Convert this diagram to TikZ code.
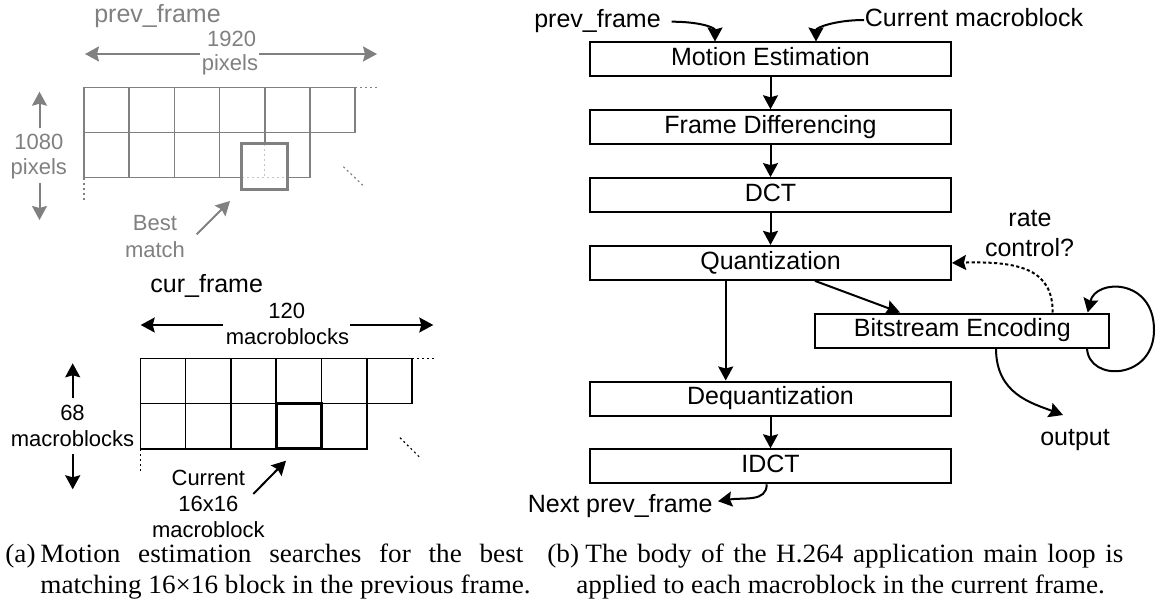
\documentclass[tikz,border=0pt]{standalone}
\usepackage{fontspec}
\setmainfont{Liberation Sans}
\newfontfamily\capfont{Liberation Serif}[FakeStretch=1.03]
\usetikzlibrary{arrows.meta}
\definecolor{gr}{HTML}{808080}
\definecolor{lgr}{HTML}{C4C4C4}
\tikzset{
  box/.style={draw, line width=1pt, minimum width=180.5pt, minimum height=17pt, inner sep=0pt,
    text height=9pt, text depth=2.6pt, font=\fontsize{12.5}{15}\selectfont},
  arr/.style={-{Stealth[length=7pt,width=7.5pt,inset=1pt]}, line width=1pt},
  garr/.style={arr, draw=gr, fill=gr},
  rt/.style={inner sep=0pt, anchor=base, font=\fontsize{12.5}{15}\selectfont},
  lt/.style={inner sep=0pt, anchor=base, font=\fontsize{11}{13}\selectfont},
  capst/.style={inner sep=0pt, anchor=base west, font=\capfont\fontsize{13.2}{15}\selectfont},
  gline/.style={draw=gr, line width=0.8pt},
  bline/.style={draw=black, line width=0.8pt},
  dots/.style={dash pattern=on 1pt off 1.5pt, line width=0.6pt},
}
\begin{document}
\begin{tikzpicture}[x=0.5pt,y=-0.5pt]
\useasboundingbox (0,0) rectangle (1156,604);

% ---------------- (a) top: prev_frame ----------------
\node[rt, text=gr] (pft) at (157.5,22.7) {prev\_frame};
\node[lt, text=gr] (w1920) at (231.7,46.7) {1920};
\node[lt, text=gr] (wpx) at (230,71) {pixels};
\node[lt, text=gr] (h1080) at (38.8,150) {1080};
\node[lt, text=gr] (hpx) at (38.8,175) {pixels};
\node[lt, text=gr] (best) at (155,231) {Best};
\node[lt, text=gr] (match) at (155,257) {match};

\coordinate (wa1) at (200,54);   \coordinate (wa1t) at (85,54);
\coordinate (wa2) at (259,54);   \coordinate (wa2t) at (377,54);
\coordinate (ha1) at (39.5,128.3); \coordinate (ha1t) at (39.5,91.7);
\coordinate (ha2) at (39.5,183.3); \coordinate (ha2t) at (39.5,220);
\coordinate (ba) at (196.7,234.3); \coordinate (bat) at (230,201);
\draw[garr] (wa1) -- (wa1t);
\draw[garr] (wa2) -- (wa2t);
\draw[garr] (ha1) -- (ha1t);
\draw[garr] (ha2) -- (ha2t);
\draw[garr] (ba) -- (bat);

% grid
\draw[gline] (84,87.7) rectangle (355,132.7);
\draw[gline] (84,132.7) rectangle (309.8,177.7);
\foreach \x in {129.2,174.3,219.5,264.7,309.8} \draw[gline] (\x,87.7) -- (\x,132.7);
\foreach \x in {129.2,174.3,219.5,264.7} \draw[gline] (\x,132.7) -- (\x,177.7);
\draw[gr, dots] (355,87.7) -- (378,87.7);
\draw[gr, dots] (84,177.7) -- (84,201.7);
\draw[gr, dots] (343.3,166.7) -- (365,187.3);
% best match box
\fill[white] (241.7,144) rectangle (287.7,190);
\draw[lgr, dots] (264.7,144) -- (264.7,177.7);
\draw[lgr, dots] (241.7,177.7) -- (287.7,177.7);
\draw[draw=gr, line width=1.5pt] (241.7,144) rectangle (287.7,190);

% ---------------- (a) bottom: cur_frame ----------------
\node[rt] (cft) at (206.7,292.7) {cur\_frame};
\node[lt] (w120) at (286.7,318.3) {120};
\node[lt] (wmb) at (287.5,344) {macroblocks};
\node[lt] (h68) at (72.5,420) {68};
\node[lt] (hmb) at (72.5,446) {macroblocks};
\node[lt] (cur) at (208.3,485) {Current};
\node[lt] (c16) at (208.3,511) {16x16};
\node[lt] (cmb) at (208.3,537.3) {macroblock};

\coordinate (wb1) at (222.7,325);  \coordinate (wb1t) at (140.7,325);
\coordinate (wb2) at (350,325);    \coordinate (wb2t) at (433.3,325);
\coordinate (hb1) at (72.7,398.3); \coordinate (hb1t) at (72.7,363.3);
\coordinate (hb2) at (72.7,454);   \coordinate (hb2t) at (72.7,489.3);
\coordinate (ca) at (253.3,494);   \coordinate (cat) at (286,460.7);
\draw[arr] (wb1) -- (wb1t);
\draw[arr] (wb2) -- (wb2t);
\draw[arr] (hb1) -- (hb1t);
\draw[arr] (hb2) -- (hb2t);
\draw[arr] (ca) -- (cat);

\draw[bline] (140.3,358.3) rectangle (412,403.6);
\draw[bline] (140.3,403.6) rectangle (366.7,448.9);
\foreach \x in {185.6,230.9,276.1,321.4,366.7} \draw[bline] (\x,358.3) -- (\x,403.6);
\foreach \x in {185.6,230.9,276.1,321.4} \draw[bline] (\x,403.6) -- (\x,448.9);
\draw[dots] (412,358.3) -- (435,358.3);
\draw[dots] (140.3,448.9) -- (140.3,471.7);
\draw[dots] (400,437.7) -- (420.7,458.3);
\draw[line width=1.5pt] (276.1,403.6) rectangle (321.4,448.9);

% ---------------- (b) flowchart ----------------
\node[box] (me) at (770.5,59.5) {Motion Estimation};
\node[box] (fd) at (770.5,127.3) {Frame Differencing};
\node[box] (dct) at (770.5,195.1) {DCT};
\node[box] (q) at (770.5,262.9) {Quantization};
\node[box] (dq) at (770.5,398.5) {Dequantization};
\node[box] (idct) at (770.5,466.3) {IDCT};
\node[box, minimum width=147pt] (be) at (962.3,330.5) {Bitstream Encoding};

\node[rt] (pfin) at (597.5,27.3) {prev\_frame};
\node[rt] (cmin) at (974,27) {Current macroblock};
\node[rt] (rate) at (1030,226.7) {rate};
\node[rt] (ctrl) at (1029.5,256.7) {control?};
\node[rt] (out) at (1075,445) {output};
\node[rt, anchor=base east] (npf) at (713,512.7) {Next prev\_frame};

\coordinate (pfs) at (671.7,21.7);
\coordinate (cms) at (864,20);
\coordinate (outt) at (1063,415);
\coordinate (loopr) at (1154,330);

\draw[arr] (pfs) .. controls +(28,0) and +(0,-14) .. ([xshift=-27.75pt]me.north);
\draw[arr] (cms) .. controls +(-28,0) and +(0,-14) .. ([xshift=22.75pt]me.north);
\draw[arr] (me) -- (fd);
\draw[arr] (fd) -- (dct);
\draw[arr] (dct) -- (q);
\draw[arr] ([xshift=-22.4pt]q.south) -- ([xshift=-22.4pt]dq.north);
\draw[arr] ([xshift=22.25pt]q.south) -- ([xshift=-31.15pt]be.north);
\draw[arr] (dq) -- (idct);
\draw[arr, dash pattern=on 1.6pt off 1.2pt] ([xshift=45.2pt]be.north) .. controls +(0,-42) and +(70,-2) .. (q.east);
\draw[arr] ([xshift=-11.65pt]be.south east) .. controls +(2,34) and +(0,50) .. (loopr)
   .. controls +(0,-52) and +(8,-34) .. ([xshift=-11.3pt]be.north east);
\draw[arr] ([xshift=16.85pt]be.south) .. controls +(0,45) and +(-32,-12) .. (outt);
\draw[arr] ([xshift=-1.9pt]idct.south) .. controls +(0,18) and +(26,-4) .. ([xshift=2.5pt,yshift=2.5pt]npf.east);

% ---------------- captions ----------------
\node[capst] (capa) at (5,562.7) {(a)};
\node[capst] (capa1) at (40,562.7) {\makebox[241.5pt][s]{Motion estimation searches for the best}};
\node[capst] (capa2) at (40,593) {matching 16×16 block in the previous frame.};
\node[capst] (capb) at (547,562.7) {(b)};
\node[capst] (capb1) at (585,562.7) {\makebox[269pt][s]{The body of the H.264 application main loop is}};
\node[capst] (capb2) at (576,593) {applied to each macroblock in the current frame.};
\end{tikzpicture}
\end{document}
